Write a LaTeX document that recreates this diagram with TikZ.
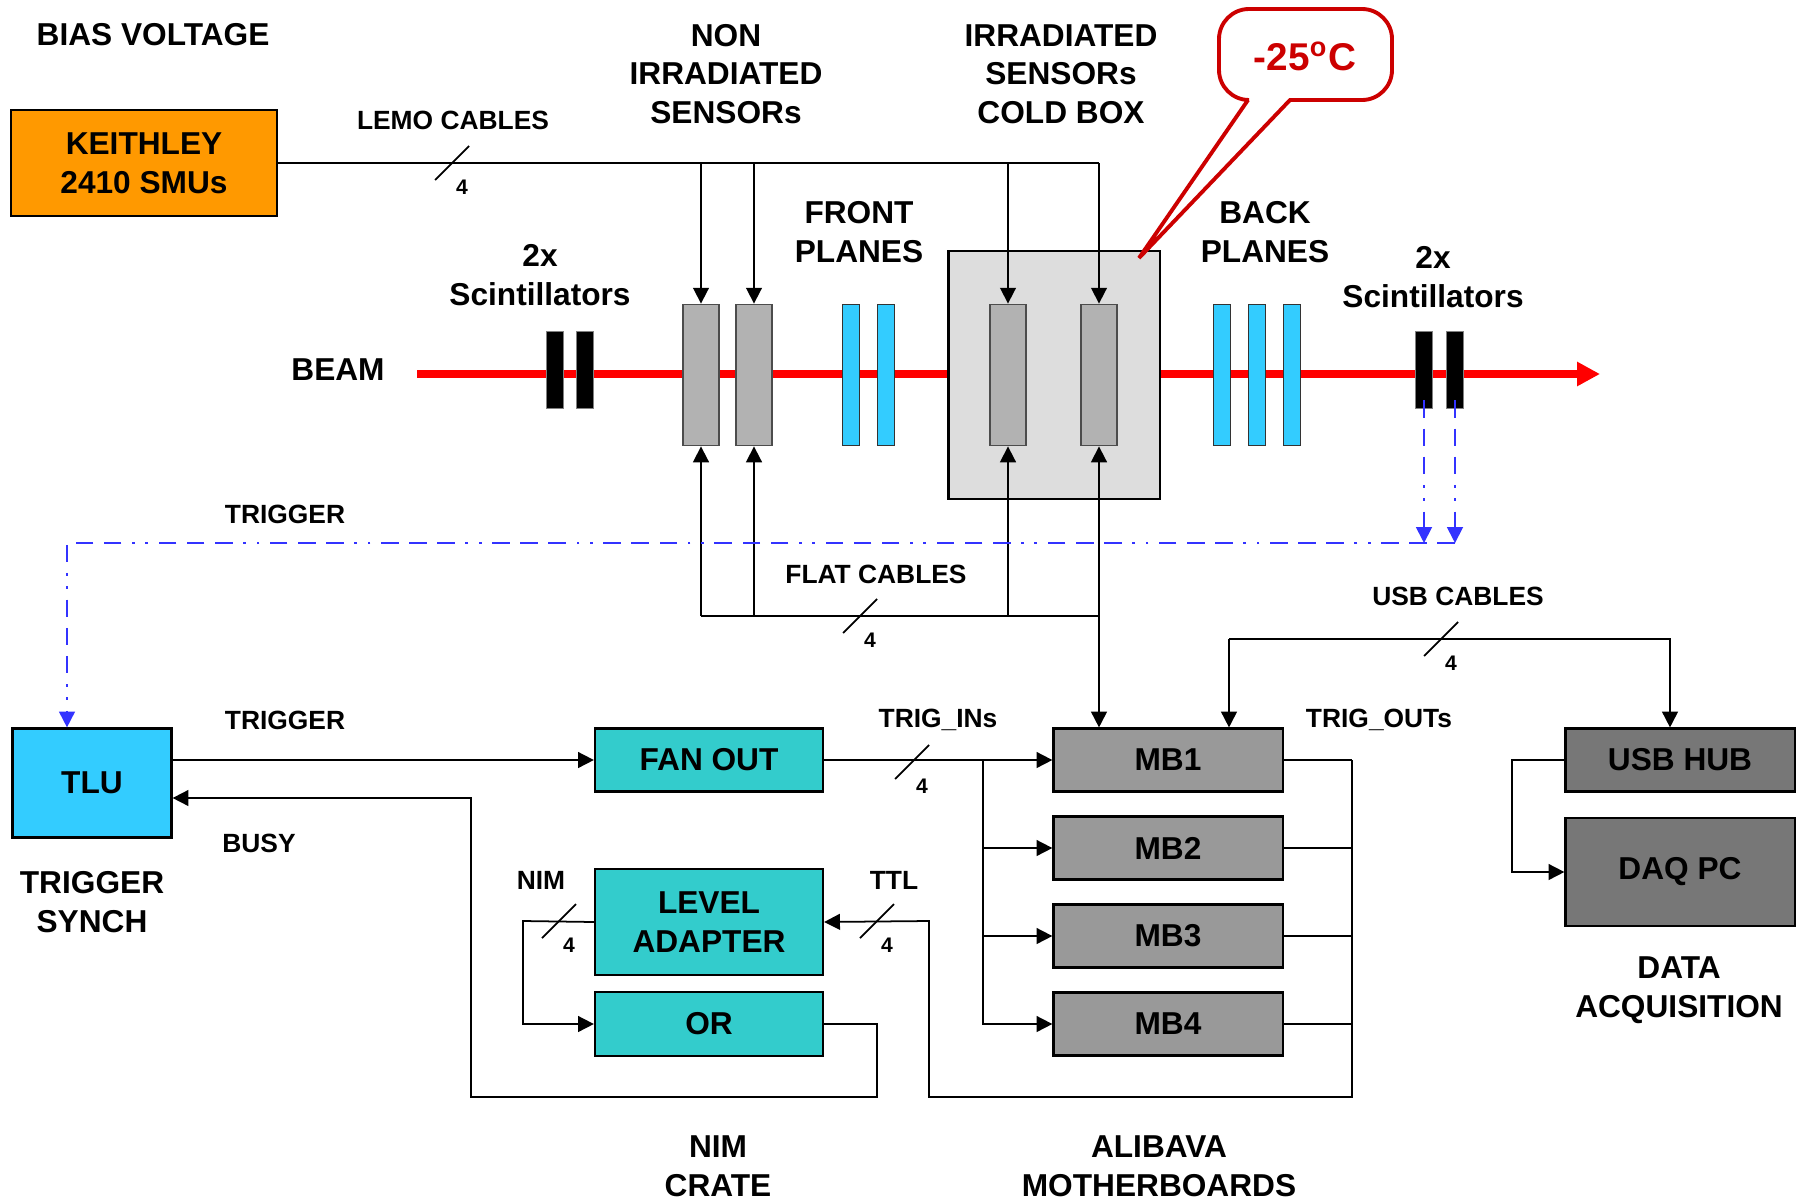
\documentclass[tikz,border=0pt]{standalone}
\usepackage{fontspec}
\setmainfont{Liberation Sans}
\usetikzlibrary{arrows.meta}
\definecolor{keithcol}{HTML}{FF9900}
\definecolor{tlucol}{HTML}{33CCFF}
\definecolor{nimcol}{HTML}{33CCCC}
\definecolor{mbcol}{HTML}{999999}
\definecolor{daqcol}{HTML}{777777}
\definecolor{coldcol}{HTML}{DDDDDD}
\definecolor{sensorcol}{HTML}{B2B2B2}
\definecolor{trigcol}{HTML}{3333FF}
\definecolor{bubblecol}{HTML}{CC0000}
\begin{document}
\begin{tikzpicture}[x=0.01cm, y=-0.01cm, line width=0.5pt,
    >={Triangle[length=4.5pt,width=4.5pt]},
    box/.style={draw, line width=0.6pt, inner sep=0pt, align=center, font=\fontsize{9}{11}\selectfont\bfseries},
    lbl/.style={inner sep=0pt, align=center, font=\fontsize{9}{11}\selectfont\bfseries},
    sml/.style={inner sep=0pt, font=\fontsize{7.5}{9}\selectfont\bfseries},
    four/.style={inner sep=0pt, font=\fontsize{6}{7}\selectfont\bfseries},
    sensor/.style={draw=black!70, fill=sensorcol, minimum width=0.36cm, minimum height=1.41cm, inner sep=0pt},
    plane/.style={draw=black!80, fill=tlucol, minimum width=0.17cm, minimum height=1.41cm, inner sep=0pt},
    scint/.style={draw=black!50, fill=black, minimum width=0.17cm, minimum height=0.77cm, inner sep=0pt},
    trig/.style={trigcol, dash pattern=on 5pt off 3pt on 5pt off 3pt on 5pt off 3pt on 0.8pt off 3pt on 0.8pt off 3pt},
    beam/.style={red, line width=2.3pt, -{Triangle[length=6.5pt,width=6.5pt]}}]
    \useasboundingbox (0,0) rectangle (1803,1200);
    \coordinate (beamstart) at (417,374);
    \coordinate (beamend) at (1600,374);
    \draw[beam] (beamstart) -- (beamend);
    \node[box, fill=keithcol, minimum width=2.65cm, minimum height=1.06cm] (keithley) at (144,163) {KEITHLEY\\2410 SMUs};
    \node[draw, line width=0.6pt, fill=coldcol, minimum width=2.11cm, minimum height=2.47cm] (coldbox) at (1054,375) {};
    \node[sensor] (s1) at (701,375) {};
    \node[sensor] (s2) at (754,375) {};
    \node[sensor] (s3) at (1008,375) {};
    \node[sensor] (s4) at (1099,375) {};
    \foreach \x [count=\i] in {851,886} \node[plane] (fp\i) at (\x,375) {};
    \foreach \x [count=\i] in {1222,1257,1292} \node[plane] (bp\i) at (\x,375) {};
    \node[scint] (scl1) at (555,370) {};
    \node[scint] (scl2) at (585,370) {};
    \node[scint] (scr1) at (1424,370) {};
    \node[scint] (scr2) at (1455,370) {};
    \node[box, fill=tlucol, minimum width=1.59cm, minimum height=1.09cm] (tlu) at (92,783) {TLU};
    \node[box, fill=nimcol, minimum width=2.28cm, minimum height=0.63cm] (fanout) at (709,760) {FAN OUT};
    \node[box, fill=nimcol, minimum width=2.28cm, minimum height=1.06cm] (ladapt) at (709,922) {LEVEL\\ADAPTER};
    \node[box, fill=nimcol, minimum width=2.28cm, minimum height=0.64cm] (orgate) at (709,1024) {OR};
    \foreach \y [count=\i] in {760,848,936,1024}
        \node[box, fill=mbcol, minimum width=2.29cm, minimum height=0.63cm] (mb\i) at (1168,\y) {MB\i};
    \node[box, fill=daqcol, minimum width=2.29cm, minimum height=0.63cm] (usbhub) at (1680,760) {USB HUB};
    \node[box, fill=daqcol, minimum width=2.29cm, minimum height=1.08cm] (daqpc) at (1680,872) {DAQ PC};
    % labels
    \node[lbl] (biaslbl) at (153,35) {BIAS VOLTAGE};
    \node[lbl] (nonirrlbl) at (726,74) {NON\\IRRADIATED\\SENSORs};
    \node[lbl] (irrlbl) at (1061,74) {IRRADIATED\\SENSORs\\COLD BOX};
    \node[lbl] (scllbl) at (540,275) {2x\\Scintillators};
    \node[lbl] (scrlbl) at (1433,277) {2x\\Scintillators};
    \node[lbl] (frontlbl) at (859,232) {FRONT\\PLANES};
    \node[lbl] (backlbl) at (1265,232) {BACK\\PLANES};
    \node[lbl] (beamlbl) at (338,370) {BEAM};
    \node[lbl] (synchlbl) at (92,902) {TRIGGER\\SYNCH};
    \node[lbl] (cratelbl) at (718,1166) {NIM\\CRATE};
    \node[lbl] (alibavalbl) at (1159,1166) {ALIBAVA\\MOTHERBOARDS};
    \node[lbl] (acqlbl) at (1679,990) {DATA\\ACQUISITION};
    \node[sml] (lemolbl) at (453,120) {LEMO CABLES};
    \node[sml] (trigalbl) at (285,514) {TRIGGER};
    \node[sml] (trigblbl) at (285,720) {TRIGGER};
    \node[sml] (flatlbl) at (876,574) {FLAT CABLES};
    \node[sml] (usblbl) at (1458,596) {USB CABLES};
    \node[sml] (trinlbl) at (938,720) {TRIG\_INs};
    \node[sml] (troutlbl) at (1379,720) {TRIG\_OUTs};
    \node[sml] (busylbl) at (259,843) {BUSY};
    \node[sml] (nimlbl) at (541,880) {NIM};
    \node[sml] (ttllbl) at (894,880) {TTL};
    % cold box bubble
    \draw[bubblecol, line width=1.1pt, fill=white] (1248,100) [rounded corners=0.3cm] -- (1219,100) -- (1219,9) -- (1392,9) -- (1392,100) [sharp corners] -- (1290,100) -- (1139,258) -- cycle;
    \node[inner sep=0pt, text=bubblecol, font=\fontsize{11}{13}\selectfont\bfseries] (templbl) at (1305,56) {-25\textsuperscript{o}C};
    % bias and flat cables
    \draw (keithley.east) -- (keithley.east -| s4);
    \foreach \s in {s1,s2,s3,s4} \draw[->] (keithley.east -| \s) -- (\s.north);
    \coordinate (flat) at (0,616);
    \draw (flat -| s1) -- (flat -| s4);
    \foreach \s in {s1,s2,s3,s4} \draw[->] (flat -| \s) -- (\s.south);
    \draw[->] (flat -| s4) -- (s4 |- mb1.north);
    % usb
    \coordinate (usbsplit) at (1229,639);
    \draw[->] (usbsplit) -- (usbsplit |- mb1.north);
    \draw[->] (usbsplit) -| ([xshift=-0.1cm]usbhub.north);
    \draw[->] (usbhub.west) -- (1512,760) |- (daqpc.west);
    % trigger
    \coordinate (trigline) at (0,543);
    \coordinate (tluin) at (67,0);
    \draw[trig,->] ([yshift=0.09cm]scr1.south) -- (scr1 |- trigline);
    \draw[trig,->] ([yshift=0.09cm]scr2.south) -- (scr2 |- trigline);
    \draw[trig,->] (trigline -| scr2) -- (trigline -| tluin) -- (tluin |- tlu.north);
    \draw[->] (tlu.east |- fanout.west) -- (fanout.west);
    \draw[->] (fanout.east) -- (mb1.west);
    \coordinate (split) at (983,760);
    \foreach \m in {mb2,mb3,mb4} \draw[->] (split) |- (\m.west);
    \coordinate (outbus) at (1352,1097);
    \foreach \m in {mb1,mb2,mb3,mb4} \draw (\m.east) -- (\m.east -| outbus);
    \draw[->] (mb1.east -| outbus) -- (outbus) -| (929,921) -- (ladapt.east);
    \draw[->] (ladapt.west) -- (523,921) |- (orgate.west);
    \coordinate (busy) at (471,798);
    \draw[->] (orgate.east) -| (877,1097) -| (busy) -- (tlu.east |- busy);
    % bundle marks
    \foreach \x/\y [count=\i] in {452/163, 860/616, 1441/639, 912/762, 559/921, 877/921} {
        \draw (\x-17,\y+17) -- (\x+17,\y-17);
        \node[four] (num\i) at (\x+10,\y+24) {4};
    }
\end{tikzpicture}
\end{document}
